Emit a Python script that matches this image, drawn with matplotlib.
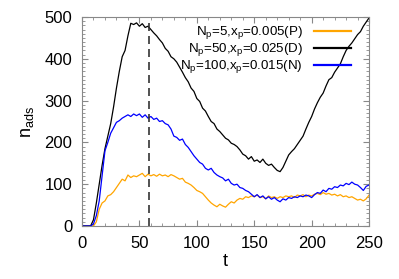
import numpy as np
import matplotlib
matplotlib.use("Agg")
import matplotlib.pyplot as plt
from matplotlib.ticker import MultipleLocator

plt.rcParams['font.family'] = ['Liberation Sans', 'DejaVu Sans']
plt.rcParams['mathtext.fontset'] = 'custom'
plt.rcParams['mathtext.rm'] = 'Liberation Sans'
plt.rcParams['mathtext.it'] = 'Liberation Sans'

# time grid (every 2.5)
t = np.arange(0, 252.5, 2.5)

# N_p=50, x_p=0.025 (D)
n_D = [0, 0, 0, 0, 15, 55, 100, 145, 185, 215,
       245, 285, 330, 370, 405, 420, 455, 485, 482, 486,
       478, 484, 475, 478, 470, 462, 455, 446, 438, 425,
       418, 405, 400, 392, 380, 368, 355, 345, 330, 322,
       305, 298, 282, 275, 262, 250, 245, 232, 226, 218,
       210, 206, 198, 195, 190, 182, 172, 168, 160, 166,
       155, 158, 152, 160, 150, 145, 148, 140, 133, 130,
       140, 155, 170, 178, 185, 195, 205, 215, 232, 248,
       262, 280, 295, 308, 318, 335, 350, 355, 368, 378,
       388, 405, 420, 430, 438, 448, 458, 465, 478, 488,
       498]

# N_p=100, x_p=0.015 (N)
n_N = [0, 0, 0, 0, 5, 25, 60, 120, 180, 200,
       222, 235, 248, 252, 258, 262, 266, 262, 268, 264,
       268, 260, 266, 258, 262, 255, 258, 250, 252, 245,
       242, 232, 215, 212, 205, 208, 195, 188, 178, 168,
       160, 152, 148, 138, 134, 138, 128, 122, 118, 115,
       108, 112, 102, 98, 100, 92, 90, 85, 82, 76,
       70, 75, 68, 72, 65, 70, 64, 68, 62, 58,
       65, 62, 68, 66, 70, 68, 72, 70, 74, 72,
       68, 75, 80, 78, 86, 82, 90, 88, 94, 92,
       98, 96, 102, 99, 105, 100, 98, 92, 85, 95,
       98]

# N_p=5, x_p=0.005 (P)
n_P = [0, 0, 0, 0, 0, 10, 40, 55, 60, 72,
       75, 82, 92, 102, 112, 108, 122, 116, 120, 118,
       122, 126, 118, 124, 120, 123, 119, 124, 120, 122,
       118, 123, 120, 116, 112, 114, 105, 102, 98, 92,
       85, 82, 78, 70, 62, 55, 50, 46, 52, 48,
       45, 52, 58, 55, 62, 66, 64, 70, 68, 72,
       70, 74, 68, 70, 65, 72, 68, 70, 66, 70,
       68, 72, 70, 72, 68, 74, 72, 75, 70, 74,
       72, 76, 78, 75, 80, 76, 78, 74, 76, 72,
       75, 70, 72, 68, 70, 66, 62, 64, 60, 65,
       74]

t_mark = 58.5

fig = plt.figure(figsize=(3.99, 2.79), dpi=100)
ax = fig.add_axes([0.2055, 0.19, 0.7195, 0.749])

ax.plot(t, n_P, color='#FFA500', lw=0.9, label=r'N$_\mathrm{p}$=5,x$_\mathrm{p}$=0.005(P)')
ax.plot(t, n_D, color='black', lw=0.9, label=r'N$_\mathrm{p}$=50,x$_\mathrm{p}$=0.025(D)')
ax.plot(t, n_N, color='#0000FF', lw=0.9, label=r'N$_\mathrm{p}$=100,x$_\mathrm{p}$=0.015(N)')
ax.axvline(t_mark, color='#333333', lw=1.2, linestyle=(0, (4.8, 3)))

ax.set_xlim(0, 250)
ax.set_ylim(0, 500)
ax.xaxis.set_major_locator(MultipleLocator(50))
ax.xaxis.set_minor_locator(MultipleLocator(10))
ax.yaxis.set_major_locator(MultipleLocator(100))
ax.yaxis.set_minor_locator(MultipleLocator(10))
ax.tick_params(which='both', direction='in', top=True, right=True, colors='#888888',
               labelcolor='black', labelsize=12)
ax.tick_params(which='major', length=4, pad=7)
ax.tick_params(which='minor', length=2)
for s in ax.spines.values():
    s.set_color('#888888')

ax.set_xlabel('t', fontsize=13, labelpad=2)
ax.set_ylabel(r'n$_\mathrm{ads}$', fontsize=13, labelpad=6)

leg = ax.legend(loc='upper right', bbox_to_anchor=(0.937, 0.965), borderaxespad=0, borderpad=0,
                frameon=False, markerfirst=False, fontsize=9.6, handlelength=2.8,
                handletextpad=0.8, labelspacing=0.0)
for h in leg.get_lines():
    h.set_linewidth(1.6)

fig.savefig('out.png', dpi=100)
